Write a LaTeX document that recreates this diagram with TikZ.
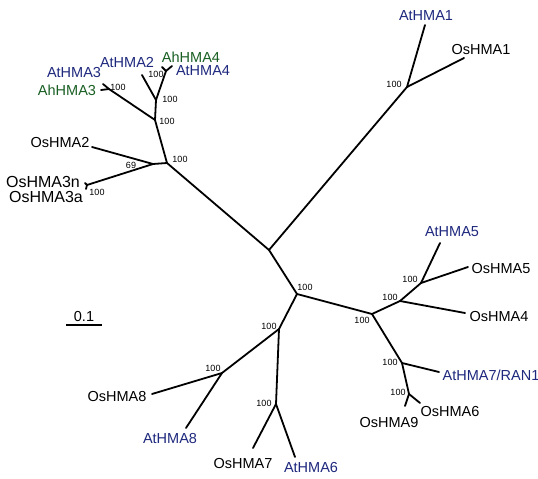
\documentclass[tikz,border=0pt]{standalone}
\usepackage{fontspec}
\setmainfont{Liberation Sans}
\definecolor{atblue}{RGB}{30,40,125}
\definecolor{ahgreen}{RGB}{25,95,35}
\begin{document}
\begin{tikzpicture}[x=1pt,y=-1pt,
  br/.style={line width=1.8pt, line cap=round, line join=round},
  leaf/.style={font=\fontsize{14.5}{16}\selectfont, inner sep=0pt},
  bigleaf/.style={font=\fontsize{16}{18}\selectfont, inner sep=0pt},
  boot/.style={font=\fontsize{9}{10}\selectfont, inner sep=0pt},
  atleaf/.style={leaf, text=atblue},
  ahleaf/.style={leaf, text=ahgreen}]
\useasboundingbox[fill=white] (0,0) rectangle (538,479);
% internal nodes
\coordinate (C) at (269,250);
\coordinate (A) at (167,163);
\coordinate (B) at (153,164);
\coordinate (D) at (155,120);
\coordinate (E) at (156,100);
\coordinate (F) at (109,89);
\coordinate (G) at (166,71);
\coordinate (H1) at (407,87);
\coordinate (H) at (297,294);
\coordinate (I) at (372,314);
\coordinate (K) at (400,301);
\coordinate (L) at (421,283);
\coordinate (M) at (402,363);
\coordinate (N) at (409,394);
\coordinate (J) at (279,329);
\coordinate (O) at (222,373);
\coordinate (P) at (276,404);
% tips
\coordinate (tAt1) at (425,25);
\coordinate (tOs1) at (464,58);
\coordinate (tOs2) at (92,147);
\coordinate (tOs3) at (87,185);
\coordinate (tOs3n) at (85,183);
\coordinate (tOs3a) at (86,189);
\coordinate (tAt3) at (103,84);
\coordinate (tAh3) at (101,90);
\coordinate (tAt2) at (142,75);
\coordinate (tAh4) at (162,67);
\coordinate (tAt4) at (172,66);
\coordinate (tAt5) at (440,243);
\coordinate (tOs5) at (468,267);
\coordinate (tOs4) at (465,313);
\coordinate (tAt7) at (439,372);
\coordinate (tOs6) at (420,403);
\coordinate (tOs9) at (405,406);
\coordinate (tOs8) at (152,394);
\coordinate (tAt8) at (186,428);
\coordinate (tOs7) at (253,448);
\coordinate (tAt6) at (295,457);
% branches
\draw[br] (C) -- (H1);
\draw[br] (H1) -- (tAt1);
\draw[br] (H1) -- (tOs1);
\draw[br] (C) -- (A);
\draw[br] (A) -- (B);
\draw[br] (B) -- (tOs2);
\draw[br] (B) -- (tOs3);
\draw[br] (tOs3) -- (tOs3n);
\draw[br] (tOs3) -- (tOs3a);
\draw[br] (A) -- (D);
\draw[br] (D) -- (E);
\draw[br] (D) -- (F);
\draw[br] (F) -- (tAt3);
\draw[br] (F) -- (tAh3);
\draw[br] (E) -- (tAt2);
\draw[br] (E) -- (G);
\draw[br] (G) -- (tAh4);
\draw[br] (G) -- (tAt4);
\draw[br] (C) -- (H);
\draw[br] (H) -- (I);
\draw[br] (I) -- (K);
\draw[br] (K) -- (tOs4);
\draw[br] (K) -- (L);
\draw[br] (L) -- (tAt5);
\draw[br] (L) -- (tOs5);
\draw[br] (I) -- (M);
\draw[br] (M) -- (tAt7);
\draw[br] (M) -- (N);
\draw[br] (N) -- (tOs6);
\draw[br] (N) -- (tOs9);
\draw[br] (H) -- (J);
\draw[br] (J) -- (O);
\draw[br] (O) -- (tOs8);
\draw[br] (O) -- (tAt8);
\draw[br] (J) -- (P);
\draw[br] (P) -- (tOs7);
\draw[br] (P) -- (tAt6);
% bootstrap values
\node[boot] (bH1) at (394,84) {100};
\node[boot] (bF) at (118,87) {100};
\node[boot] (bG) at (156,74) {100};
\node[boot] (bE) at (170,99) {100};
\node[boot] (bD) at (167,121) {100};
\node[boot] (bA) at (180,159) {100};
\node[boot] (bB) at (131,165) {69};
\node[boot] (bOs3) at (97,192) {100};
\node[boot] (bH) at (305,287) {100};
\node[boot] (bI) at (362,320) {100};
\node[boot] (bK) at (390,297) {100};
\node[boot] (bL) at (410,279) {100};
\node[boot] (bM) at (390,362) {100};
\node[boot] (bN) at (398,392) {100};
\node[boot] (bJ) at (269,326) {100};
\node[boot] (bO) at (213,368) {100};
\node[boot] (bP) at (264,403) {100};
% leaf labels
\node[atleaf] (lAt1) at (426,16) {AtHMA1};
\node[leaf] (lOs1) at (481,50) {OsHMA1};
\node[atleaf] (lAt3) at (74,73) {AtHMA3};
\node[ahleaf] (lAh3) at (67,90) {AhHMA3};
\node[atleaf] (lAt2) at (127,62) {AtHMA2};
\node[ahleaf] (lAh4) at (191,57) {AhHMA4};
\node[atleaf] (lAt4) at (203,71) {AtHMA4};
\node[leaf] (lOs2) at (60,143) {OsHMA2};
\node[bigleaf] (lOs3n) at (43,182) {OsHMA3n};
\node[bigleaf] (lOs3a) at (46,197) {OsHMA3a};
\node[atleaf] (lAt5) at (452,232) {AtHMA5};
\node[leaf] (lOs5) at (501,269) {OsHMA5};
\node[leaf] (lOs4) at (499,317) {OsHMA4};
\node[atleaf] (lAt7) at (491,375) {AtHMA7/RAN1};
\node[leaf] (lOs6) at (450,412) {OsHMA6};
\node[leaf] (lOs9) at (389,423) {OsHMA9};
\node[leaf] (lOs8) at (117,397) {OsHMA8};
\node[atleaf] (lAt8) at (170,439) {AtHMA8};
\node[leaf] (lOs7) at (243,464) {OsHMA7};
\node[atleaf] (lAt6) at (311,468) {AtHMA6};
% scale bar
\node[leaf] (scl) at (84,317) {0.1};
\coordinate (sb1) at (66,325);
\coordinate (sb2) at (102,325);
\draw[line width=1.8pt] (sb1) -- (sb2);
\end{tikzpicture}
\end{document}
